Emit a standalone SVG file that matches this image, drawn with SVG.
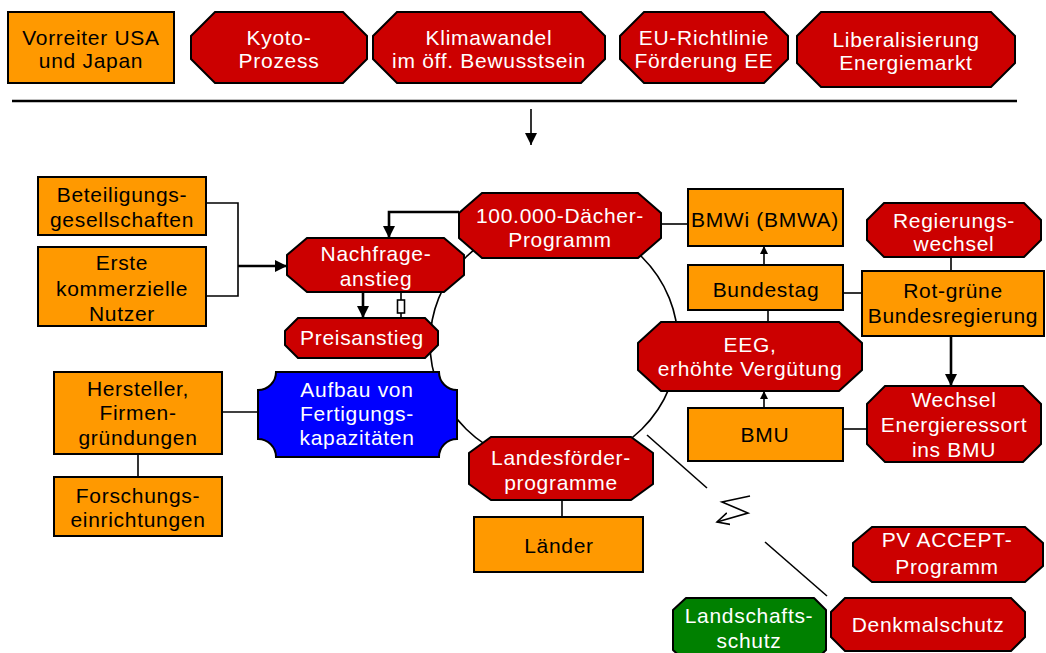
<svg xmlns="http://www.w3.org/2000/svg" width="1046" height="653" viewBox="0 0 1046 653">
  <style>
    text { font-family: "Liberation Sans", Arial, sans-serif; font-size: 21px; letter-spacing: 0.7px; text-anchor: middle; }
    .box { fill: #FF9900; stroke: #000; stroke-width: 2; }
    .red { fill: #CC0000; stroke: #000; stroke-width: 2; stroke-linejoin: miter; }
    .blue { fill: #0000FF; stroke: #000; stroke-width: 2; }
    .green { fill: #008000; stroke: #000; stroke-width: 2; stroke-linejoin: round; }
    .dark { fill: #000; }
    .light { fill: #FFF; }
    .thin { fill: none; stroke: #000; stroke-width: 1.6; }
    .thick { fill: none; stroke: #000; stroke-width: 2.6; }
  </style>
  <defs>
    <marker id="head" markerUnits="userSpaceOnUse" markerWidth="14" markerHeight="14" refX="12" refY="6" orient="auto">
      <path d="M0,0 L12,6 L0,12 Z" fill="#000"/>
    </marker>
    <marker id="headSmall" markerUnits="userSpaceOnUse" markerWidth="10" markerHeight="10" refX="8" refY="4" orient="auto">
      <path d="M0,0 L8,4 L0,8 Z" fill="#000"/>
    </marker>
    <marker id="headOpen" markerUnits="userSpaceOnUse" markerWidth="16" markerHeight="16" refX="12" refY="7" orient="auto">
      <path d="M0,1 L12,7 L0,13" fill="none" stroke="#000" stroke-width="1.6"/>
    </marker>
  </defs>

  <rect width="1046" height="653" fill="#FFF"/>

  <!-- cycle ring, drawn behind the nodes -->
  <ellipse cx="554" cy="343" rx="124" ry="122" fill="none" stroke="#000" stroke-width="1.6"/>

  <g id="connectors">
    <path class="thick" d="M12,101 H1017"/>
    <path class="thin" d="M531,109 V145" marker-end="url(#head)"/>
    <path class="thin" d="M206,203 H238 V296 H206"/>
    <path class="thick" d="M238,266 H287" marker-end="url(#head)"/>
    <path class="thick" d="M459,212 H389 V238" marker-end="url(#head)"/>
    <path class="thick" d="M363,292 V318" marker-end="url(#head)"/>
    <path class="thin" d="M401,292 V300 M401,313 V318"/>
    <rect x="397.5" y="300" width="7" height="13" fill="#FFF" stroke="#000" stroke-width="1.6"/>
    <path class="thin" d="M661,224 H688"/>
    <path class="thin" d="M764,265 V246" marker-end="url(#headSmall)"/>
    <path class="thin" d="M768,310 V322"/>
    <path class="thin" d="M843,293 H862"/>
    <path class="thin" d="M951,257 V271"/>
    <path class="thick" d="M951,336 V386" marker-end="url(#head)"/>
    <path class="thin" d="M764,408 V391" marker-end="url(#headSmall)"/>
    <path class="thin" d="M843,429 H867"/>
    <path class="thin" d="M222,412 H258"/>
    <path class="thin" d="M138,454 V477"/>
    <path class="thin" d="M562,500 V517"/>
    <!-- conflict line, broken by a lightning bolt -->
    <path class="thin" d="M647,435 L707,488"/>
    <path class="thin" d="M765,542 L827,596"/>
    <path class="thin" d="M750,496 L722,502 L748,513 L717,522" marker-end="url(#headOpen)"/>
  </g>

  <g id="vorreiter">
    <rect class="box" x="8" y="12" width="166" height="71"/>
    <text class="dark" x="91" y="45">Vorreiter USA</text>
    <text class="dark" x="91" y="68">und Japan</text>
  </g>
  <g id="kyoto">
    <polygon class="red" points="215,12 343,12 367,36 367,59 343,83 215,83 191,59 191,36"/>
    <text class="light" x="279" y="45">Kyoto-</text>
    <text class="light" x="279" y="68">Prozess</text>
  </g>
  <g id="klimawandel">
    <polygon class="red" points="397,12 581,12 605,36 605,59 581,83 397,83 373,59 373,36"/>
    <text class="light" x="489" y="45">Klimawandel</text>
    <text class="light" x="489" y="68">im öff. Bewusstsein</text>
  </g>
  <g id="eu-richtlinie">
    <polygon class="red" points="644,12 764,12 788,36 788,59 764,83 644,83 620,59 620,36"/>
    <text class="light" x="704" y="45">EU-Richtlinie</text>
    <text class="light" x="704" y="68">Förderung EE</text>
  </g>
  <g id="liberalisierung">
    <polygon class="red" points="821,12 991,12 1015,36 1015,63 991,87 821,87 797,63 797,36"/>
    <text class="light" x="906" y="47">Liberalisierung</text>
    <text class="light" x="906" y="70">Energiemarkt</text>
  </g>

  <g id="beteiligung">
    <rect class="box" x="38" y="177" width="168" height="58"/>
    <text class="dark" x="122" y="202">Beteiligungs-</text>
    <text class="dark" x="122" y="227">gesellschaften</text>
  </g>
  <g id="erste-nutzer">
    <rect class="box" x="38" y="247" width="168" height="79"/>
    <text class="dark" x="122" y="270">Erste</text>
    <text class="dark" x="122" y="296">kommerzielle</text>
    <text class="dark" x="122" y="321">Nutzer</text>
  </g>
  <g id="nachfrage">
    <polygon class="red" points="307,238 444,238 464,255 464,275 444,292 307,292 287,275 287,255"/>
    <text class="light" x="376" y="261">Nachfrage-</text>
    <text class="light" x="376" y="286">anstieg</text>
  </g>
  <g id="preisanstieg">
    <polygon class="red" points="298,318 425,318 438,331 438,345 425,358 298,358 285,345 285,331"/>
    <text class="light" x="362" y="345">Preisanstieg</text>
  </g>
  <g id="daecher">
    <polygon class="red" points="482,193 638,193 661,213 661,238 638,258 482,258 459,238 459,213"/>
    <text class="light" x="560" y="223">100.000-Dächer-</text>
    <text class="light" x="560" y="247">Programm</text>
  </g>
  <g id="bmwi">
    <rect class="box" x="688" y="189" width="155" height="57"/>
    <text class="dark" x="765" y="227">BMWi (BMWA)</text>
  </g>
  <g id="bundestag">
    <rect class="box" x="688" y="265" width="155" height="45"/>
    <text class="dark" x="766" y="297">Bundestag</text>
  </g>
  <g id="regierungswechsel">
    <polygon class="red" points="884,203 1024,203 1041,220 1041,240 1024,257 884,257 867,240 867,220"/>
    <text class="light" x="954" y="228">Regierungs-</text>
    <text class="light" x="954" y="251">wechsel</text>
  </g>
  <g id="rot-gruen">
    <rect class="box" x="862" y="271" width="182" height="65"/>
    <text class="dark" x="953" y="298">Rot-grüne</text>
    <text class="dark" x="953" y="323">Bundesregierung</text>
  </g>
  <g id="eeg">
    <polygon class="red" points="661,322 839,322 862,343 862,370 839,391 661,391 638,370 638,343"/>
    <text class="light" x="750" y="352">EEG,</text>
    <text class="light" x="750" y="376">erhöhte Vergütung</text>
  </g>
  <g id="wechsel-bmu">
    <polygon class="red" points="885,386 1023,386 1041,404 1041,444 1023,462 885,462 867,444 867,404"/>
    <text class="light" x="954" y="407">Wechsel</text>
    <text class="light" x="954" y="432">Energieressort</text>
    <text class="light" x="954" y="457">ins BMU</text>
  </g>
  <g id="bmu">
    <rect class="box" x="688" y="408" width="155" height="53"/>
    <text class="dark" x="765" y="442">BMU</text>
  </g>

  <g id="hersteller">
    <rect class="box" x="54" y="372" width="168" height="82"/>
    <text class="dark" x="138" y="396">Hersteller,</text>
    <text class="dark" x="138" y="420">Firmen-</text>
    <text class="dark" x="138" y="445">gründungen</text>
  </g>
  <g id="forschung">
    <rect class="box" x="54" y="477" width="168" height="59"/>
    <text class="dark" x="138" y="503">Forschungs-</text>
    <text class="dark" x="138" y="527">einrichtungen</text>
  </g>
  <g id="fertigung">
    <path class="blue" d="M276,372 H439 A18,18 0 0 0 457,390 V439 A18,18 0 0 0 439,457 H276 A18,18 0 0 0 258,439 V390 A18,18 0 0 0 276,372 Z"/>
    <text class="light" x="357" y="397">Aufbau von</text>
    <text class="light" x="357" y="421">Fertigungs-</text>
    <text class="light" x="357" y="445">kapazitäten</text>
  </g>
  <g id="landesfoerderung">
    <polygon class="red" points="491,437 631,437 653,453 653,484 631,500 491,500 469,484 469,453"/>
    <text class="light" x="561" y="465">Landesförder-</text>
    <text class="light" x="561" y="490">programme</text>
  </g>
  <g id="laender">
    <rect class="box" x="474" y="517" width="169" height="55"/>
    <text class="dark" x="559" y="553">Länder</text>
  </g>

  <g id="pv-accept">
    <polygon class="red" points="872,527 1025,527 1043,543 1043,566 1025,582 872,582 853,566 853,543"/>
    <text class="light" x="947" y="547">PV ACCEPT-</text>
    <text class="light" x="947" y="574">Programm</text>
  </g>
  <g id="landschaftsschutz">
    <polygon class="green" points="686,598 814,598 826,610 826,650 814,662 686,662 673,650 673,610"/>
    <text class="light" x="749" y="623">Landschafts-</text>
    <text class="light" x="749" y="648">schutz</text>
  </g>
  <g id="denkmalschutz">
    <polygon class="red" points="845,598 1011,598 1025,612 1025,637 1011,651 845,651 831,637 831,612"/>
    <text class="light" x="928" y="632">Denkmalschutz</text>
  </g>
</svg>
